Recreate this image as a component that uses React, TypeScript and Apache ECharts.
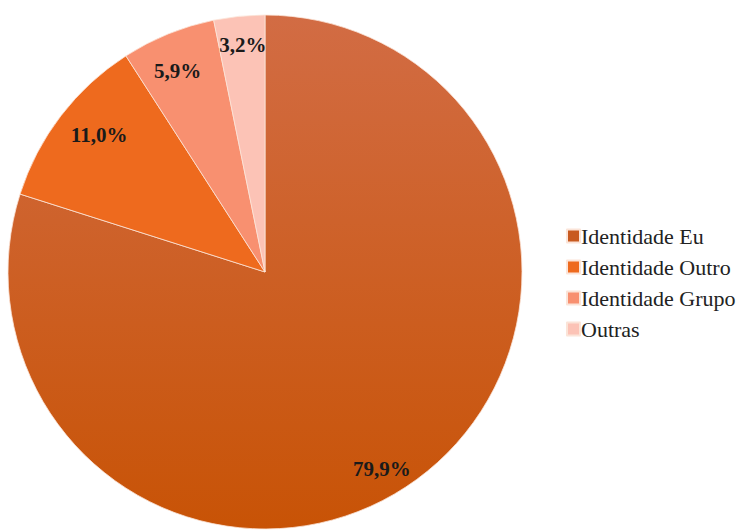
import React, { useEffect, useRef } from "react";
import * as echarts from "echarts";

const categories = ["Identidade Eu", "Identidade Outro", "Identidade Grupo", "Outras"];
const values = [79.9, 11.0, 5.9, 3.2];
const colors = ["#cc5f25", "#ee6a1e", "#f89070", "#fcc3b6"];

export default function App() {
  const ref = useRef<HTMLDivElement>(null);
  useEffect(() => {
    if (!ref.current) return;
    const chart = echarts.init(ref.current, null, { renderer: "svg" });
    const euGradient = new echarts.graphic.LinearGradient(0, 0, 0, 1, [
      { offset: 0, color: "#d26c44" },
      { offset: 1, color: "#c85306" },
    ]);
    const mainData = categories.map((name, i) => ({
      name,
      value: values[i],
      itemStyle: { color: i === 0 ? euGradient : colors[i] },
    }));
    const labelOffsets = [[-14, 18], [10, -2], [-4, 4], [0, -7]];
    const labelData = categories.map((name, i) => ({
      name,
      value: values[i],
      label: { offset: labelOffsets[i] },
    }));
    chart.setOption({
      animation: false,
      color: colors,
      legend: {
        orient: "vertical",
        left: 561,
        top: 220,
        icon: "rect",
        itemWidth: 13,
        itemHeight: 13,
        itemGap: 9,
        data: categories.map((name, i) => ({ name, itemStyle: { color: i === 0 ? "#c85a20" : colors[i] } })),
        textStyle: {
          fontFamily: "Liberation Serif",
          fontSize: 22,
          lineHeight: 21,
          color: "#222",
          padding: [0, 0, 0, -4],
        },
      },
      series: [
        {
          type: "pie",
          center: [265, 272],
          radius: [0, 257],
          startAngle: 90,
          clockwise: true,
          silent: true,
          data: mainData,
          itemStyle: { borderColor: "#fbe4d8", borderWidth: 0.8 },
          label: { show: false },
          labelLine: { show: false },
        },
        {
          type: "pie",
          center: [265, 272],
          radius: [180, 257],
          startAngle: 90,
          clockwise: true,
          silent: true,
          data: labelData,
          itemStyle: { color: "rgba(0,0,0,0)" },
          label: {
            show: true,
            position: "inside",
            formatter: (p: any) => p.value.toFixed(1).replace(".", ",") + "%",
            fontFamily: "Liberation Serif",
            fontWeight: "bold",
            fontSize: 21,
            color: "#1a1a1a",
          },
          labelLine: { show: false },
        },
      ],
    });
    return () => chart.dispose();
  }, []);
  return <div ref={ref} style={{ position: "fixed", left: 0, top: 0, width: 744, height: 532, background: "#fff" }} />;
}
